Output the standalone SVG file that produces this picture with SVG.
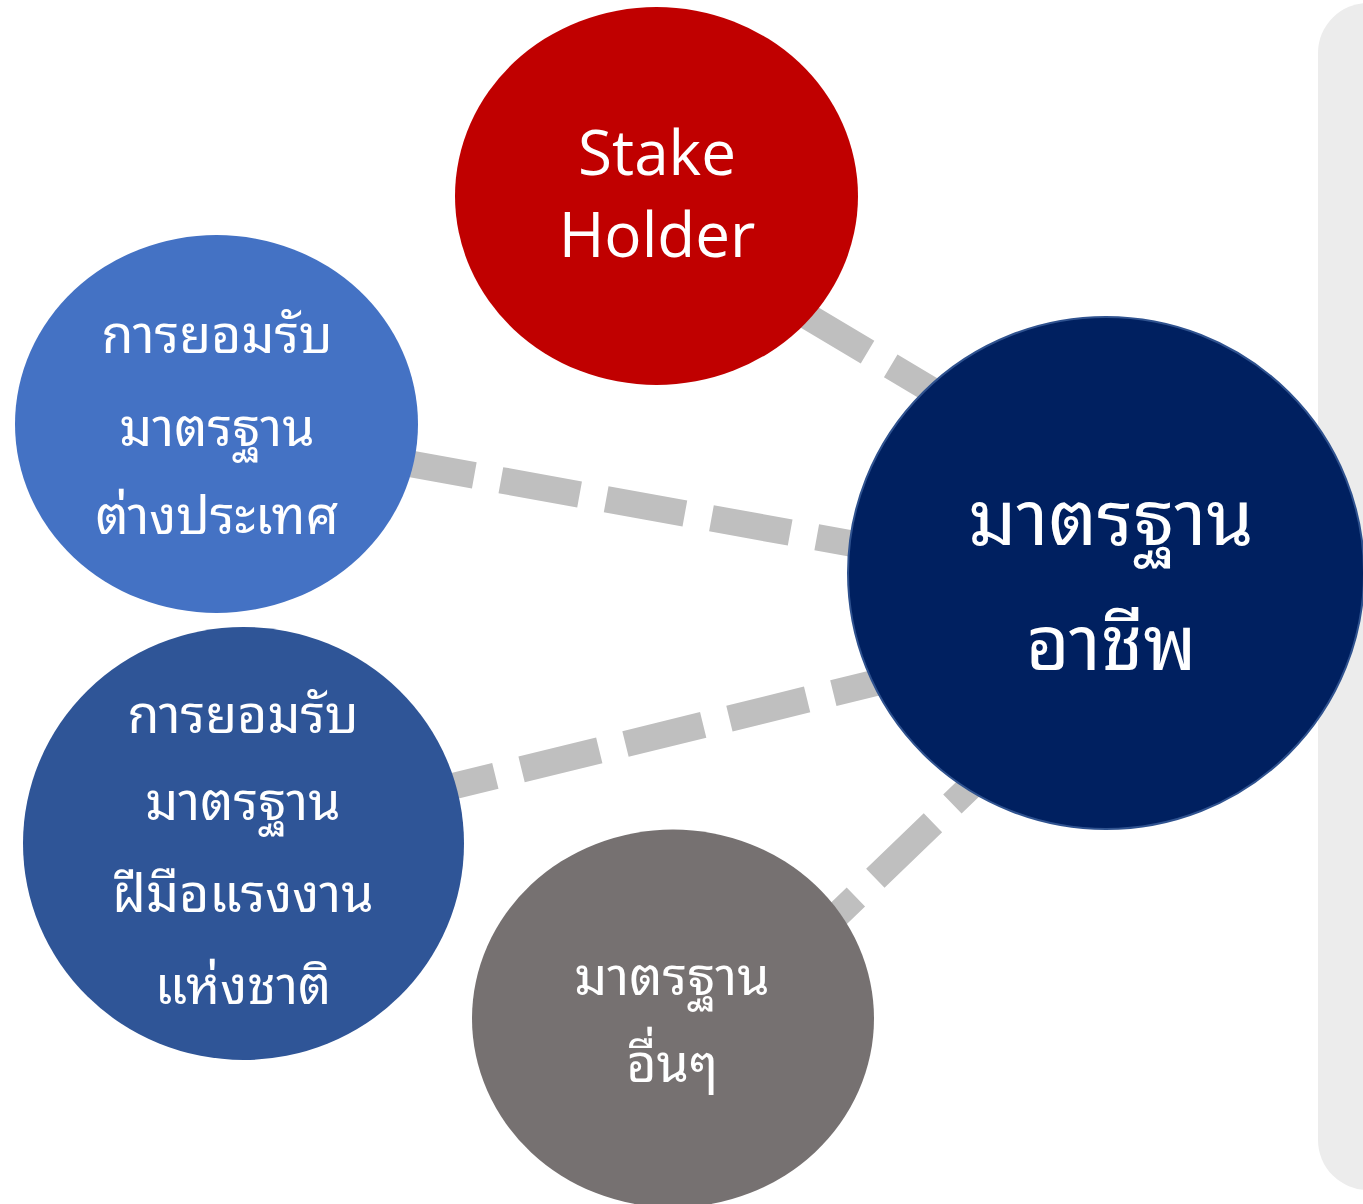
<svg xmlns="http://www.w3.org/2000/svg" width="1363" height="1204" viewBox="0 0 1363 1204">
<style>
.conn{stroke:#bfbfbf;stroke-width:26.5;stroke-dasharray:80 27;fill:none}
.lbl{fill:#ffffff;text-anchor:middle;font-family:"Noto Sans Thai Looped","Noto Looped Thai","Loma","Garuda","Norasi","Leelawadee UI",Tahoma,"Noto Sans Thai","Noto Sans",sans-serif}
.th{font-size:52px}
.big{font-size:76px}
.en{font-family:"Open Sans","Noto Sans",sans-serif;font-size:62px}
</style>
<rect id="panel" x="1318" y="3" width="120" height="1187" rx="50" ry="50" fill="#ececec"/>
<g id="connectors">
<line class="conn" x1="615" y1="201.5" x2="1000" y2="431"/>
<line class="conn" x1="185" y1="423" x2="1000" y2="570.5"/>
<line class="conn" x1="209.8" y1="845.9" x2="1000" y2="652.2"/>
<line class="conn" x1="721.2" y1="1026.7" x2="1050" y2="710"/>
</g>
<g id="stakeholder">
<ellipse cx="656.5" cy="196" rx="201.5" ry="189" fill="#c00000"/>
<text class="lbl en" x="657" y="175">Stake</text>
<text class="lbl en" x="657" y="257">Holder</text>
</g>
<g id="foreign">
<ellipse cx="216.5" cy="424" rx="201.5" ry="189" fill="#4472c4"/>
<text class="lbl th" x="217" y="353">การยอมรับ</text>
<text class="lbl th" x="217" y="446">มาตรฐาน</text>
<text class="lbl th" x="217" y="534">ต่างประเทศ</text>
</g>
<g id="national">
<ellipse cx="243.5" cy="843.5" rx="220.5" ry="216.5" fill="#2f5597"/>
<text class="lbl th" x="243" y="733">การยอมรับ</text>
<text class="lbl th" x="243" y="820">มาตรฐาน</text>
<text class="lbl th" x="243" y="912">ฝีมือแรงงาน</text>
<text class="lbl th" x="243" y="1004">แห่งชาติ</text>
</g>
<g id="other">
<ellipse cx="673" cy="1018.5" rx="201" ry="189" fill="#767171"/>
<text class="lbl th" x="672" y="995">มาตรฐาน</text>
<text class="lbl th" x="672" y="1082">อื่นๆ</text>
</g>
<g id="occupational">
<ellipse cx="1106" cy="573" rx="258" ry="256" fill="#002060" stroke="#2f528f" stroke-width="2"/>
<text class="lbl big" x="1111" y="545">มาตรฐาน</text>
<text class="lbl big" x="1111" y="670">อาชีพ</text>
</g>
</svg>
